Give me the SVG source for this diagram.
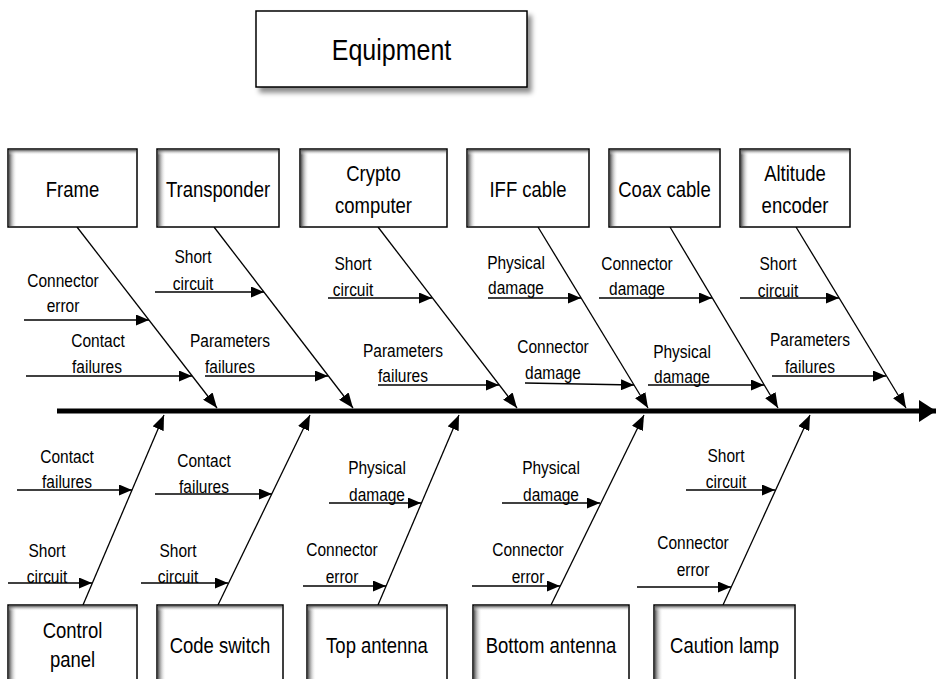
<svg xmlns="http://www.w3.org/2000/svg" width="936" height="679" viewBox="0 0 936 679">
<style>
.box{fill:#fff;stroke:#000;stroke-width:1.5}
.sl{fill:url(#gl)}
.st{fill:url(#gt)}
.t{font-family:"Liberation Sans",Arial,sans-serif;fill:#000;text-anchor:middle}
.bt{font-size:18.5px}
.lt{font-size:15.5px}
.et{font-size:25px}
.diag{stroke:#000;stroke-width:1.3;fill:none;marker-end:url(#ad)}
.sub{stroke:#000;stroke-width:1.5;fill:none;marker-end:url(#as)}
.spine{stroke:#000;stroke-width:5;fill:none;marker-end:url(#ab)}
</style>
<defs>
<linearGradient id="gl" x1="0" y1="0" x2="1" y2="0">
<stop offset="0" stop-color="#555" stop-opacity="1"/>
<stop offset="0.4" stop-color="#999" stop-opacity="0.6"/>
<stop offset="1" stop-color="#fff" stop-opacity="0"/>
</linearGradient>
<linearGradient id="gt" x1="0" y1="0" x2="0" y2="1">
<stop offset="0" stop-color="#555" stop-opacity="0.9"/>
<stop offset="1" stop-color="#fff" stop-opacity="0"/>
</linearGradient>
<filter id="sh" x="-10%" y="-20%" width="130%" height="150%">
<feDropShadow dx="4" dy="5" stdDeviation="2.5" flood-color="#000" flood-opacity="0.45"/>
</filter>
<marker id="as" markerUnits="userSpaceOnUse" markerWidth="13" markerHeight="11" refX="13" refY="5.5" orient="auto">
<path d="M0,0 L13,5.5 L0,11 z" fill="#000"/>
</marker>
<marker id="ad" markerUnits="userSpaceOnUse" markerWidth="15" markerHeight="12" refX="15" refY="6" orient="auto">
<path d="M0,0 L15,6 L0,12 z" fill="#000"/>
</marker>
<marker id="ab" markerUnits="userSpaceOnUse" markerWidth="17" markerHeight="22" refX="17" refY="11" orient="auto">
<path d="M0,0 L17,11 L0,22 z" fill="#000"/>
</marker>
</defs>

<g id="equipment">
<rect x="256" y="11" width="271" height="76" class="box" filter="url(#sh)"/>
<text class="t et" transform="translate(391.5,60) scale(1,1.18)">Equipment</text>
</g>

<g id="connectors">
<line x1="57" y1="411" x2="936" y2="411" class="spine"/>
<line x1="77" y1="227" x2="217" y2="408" class="diag"/>
<line x1="214" y1="227" x2="353" y2="408" class="diag"/>
<line x1="378" y1="227" x2="517" y2="408" class="diag"/>
<line x1="538" y1="227" x2="648" y2="408" class="diag"/>
<line x1="670" y1="227" x2="778" y2="408" class="diag"/>
<line x1="796" y1="227" x2="906" y2="408" class="diag"/>
<line x1="83" y1="605" x2="164" y2="415" class="diag"/>
<line x1="218" y1="605" x2="310" y2="415" class="diag"/>
<line x1="378" y1="605" x2="459" y2="415" class="diag"/>
<line x1="551" y1="605" x2="644" y2="415" class="diag"/>
<line x1="723" y1="605" x2="810" y2="415" class="diag"/>
<line x1="24" y1="320" x2="149" y2="320" class="sub"/>
<line x1="26" y1="376" x2="192" y2="376" class="sub"/>
<line x1="155" y1="292" x2="264" y2="292" class="sub"/>
<line x1="205" y1="376" x2="328" y2="376" class="sub"/>
<line x1="328" y1="298" x2="432" y2="298" class="sub"/>
<line x1="378" y1="385" x2="499" y2="385" class="sub"/>
<line x1="488" y1="298" x2="581" y2="298" class="sub"/>
<line x1="525" y1="383" x2="634" y2="385" class="sub"/>
<line x1="599" y1="298" x2="712" y2="298" class="sub"/>
<line x1="648" y1="385" x2="764" y2="385" class="sub"/>
<line x1="740" y1="298" x2="839" y2="298" class="sub"/>
<line x1="772" y1="376" x2="886" y2="376" class="sub"/>
<line x1="17" y1="490" x2="132" y2="490" class="sub"/>
<line x1="8" y1="583" x2="92" y2="583" class="sub"/>
<line x1="155" y1="494" x2="272" y2="494" class="sub"/>
<line x1="141" y1="583" x2="228" y2="583" class="sub"/>
<line x1="329" y1="503" x2="421" y2="503" class="sub"/>
<line x1="303" y1="586" x2="386" y2="586" class="sub"/>
<line x1="502" y1="503" x2="600" y2="503" class="sub"/>
<line x1="472" y1="586" x2="560" y2="586" class="sub"/>
<line x1="686" y1="490" x2="775" y2="490" class="sub"/>
<line x1="637" y1="587" x2="731" y2="587" class="sub"/>
</g>

<g id="frame">
<rect x="8" y="149" width="129" height="78" class="box"/>
<rect x="9" y="150" width="8" height="76" class="sl"/>
<rect x="9" y="150" width="127" height="5" class="st"/>
<text class="t bt" transform="translate(72.5,197) scale(1,1.18)">Frame</text>
<text class="t lt" transform="translate(63,287) scale(1,1.18)">Connector</text>
<text class="t lt" transform="translate(63,312) scale(1,1.18)">error</text>
<text class="t lt" transform="translate(98,347) scale(1,1.18)">Contact</text>
<text class="t lt" transform="translate(97,373) scale(1,1.18)">failures</text>
</g>

<g id="transponder">
<rect x="157" y="149" width="122" height="78" class="box"/>
<rect x="158" y="150" width="8" height="76" class="sl"/>
<rect x="158" y="150" width="120" height="5" class="st"/>
<text class="t bt" transform="translate(218,197) scale(1,1.18)">Transponder</text>
<text class="t lt" transform="translate(193,263) scale(1,1.18)">Short</text>
<text class="t lt" transform="translate(193,290) scale(1,1.18)">circuit</text>
<text class="t lt" transform="translate(230,347) scale(1,1.18)">Parameters</text>
<text class="t lt" transform="translate(230,373) scale(1,1.18)">failures</text>
</g>

<g id="crypto">
<rect x="300" y="149" width="147" height="78" class="box"/>
<rect x="301" y="150" width="8" height="76" class="sl"/>
<rect x="301" y="150" width="145" height="5" class="st"/>
<text class="t bt" transform="translate(373.5,181) scale(1,1.18)">Crypto</text>
<text class="t bt" transform="translate(373.5,213) scale(1,1.18)">computer</text>
<text class="t lt" transform="translate(353,270) scale(1,1.18)">Short</text>
<text class="t lt" transform="translate(353,296) scale(1,1.18)">circuit</text>
<text class="t lt" transform="translate(403,357) scale(1,1.18)">Parameters</text>
<text class="t lt" transform="translate(403,382) scale(1,1.18)">failures</text>
</g>

<g id="iff-cable">
<rect x="467" y="149" width="122" height="78" class="box"/>
<rect x="468" y="150" width="8" height="76" class="sl"/>
<rect x="468" y="150" width="120" height="5" class="st"/>
<text class="t bt" transform="translate(528,197) scale(1,1.18)">IFF cable</text>
<text class="t lt" transform="translate(516,269) scale(1,1.18)">Physical</text>
<text class="t lt" transform="translate(516,294) scale(1,1.18)">damage</text>
<text class="t lt" transform="translate(553,353) scale(1,1.18)">Connector</text>
<text class="t lt" transform="translate(553,379) scale(1,1.18)">damage</text>
</g>

<g id="coax-cable">
<rect x="609" y="149" width="111" height="78" class="box"/>
<rect x="610" y="150" width="8" height="76" class="sl"/>
<rect x="610" y="150" width="109" height="5" class="st"/>
<text class="t bt" transform="translate(664.5,197) scale(1,1.18)">Coax cable</text>
<text class="t lt" transform="translate(637,270) scale(1,1.18)">Connector</text>
<text class="t lt" transform="translate(637,295) scale(1,1.18)">damage</text>
<text class="t lt" transform="translate(682,358) scale(1,1.18)">Physical</text>
<text class="t lt" transform="translate(682,383) scale(1,1.18)">damage</text>
</g>

<g id="altitude-encoder">
<rect x="740" y="149" width="110" height="78" class="box"/>
<rect x="741" y="150" width="8" height="76" class="sl"/>
<rect x="741" y="150" width="108" height="5" class="st"/>
<text class="t bt" transform="translate(795,181) scale(1,1.18)">Altitude</text>
<text class="t bt" transform="translate(795,213) scale(1,1.18)">encoder</text>
<text class="t lt" transform="translate(778,270) scale(1,1.18)">Short</text>
<text class="t lt" transform="translate(778,297) scale(1,1.18)">circuit</text>
<text class="t lt" transform="translate(810,346) scale(1,1.18)">Parameters</text>
<text class="t lt" transform="translate(810,373) scale(1,1.18)">failures</text>
</g>

<g id="control-panel">
<rect x="8" y="605" width="129" height="82" class="box"/>
<rect x="9" y="606" width="8" height="80" class="sl"/>
<rect x="9" y="606" width="127" height="5" class="st"/>
<text class="t bt" transform="translate(72.5,638) scale(1,1.18)">Control</text>
<text class="t bt" transform="translate(72.5,667) scale(1,1.18)">panel</text>
<text class="t lt" transform="translate(67,463) scale(1,1.18)">Contact</text>
<text class="t lt" transform="translate(67,488) scale(1,1.18)">failures</text>
<text class="t lt" transform="translate(47,557) scale(1,1.18)">Short</text>
<text class="t lt" transform="translate(47,583) scale(1,1.18)">circuit</text>
</g>

<g id="code-switch">
<rect x="157" y="605" width="126" height="82" class="box"/>
<rect x="158" y="606" width="8" height="80" class="sl"/>
<rect x="158" y="606" width="124" height="5" class="st"/>
<text class="t bt" transform="translate(220,653) scale(1,1.18)">Code switch</text>
<text class="t lt" transform="translate(204,467) scale(1,1.18)">Contact</text>
<text class="t lt" transform="translate(204,493) scale(1,1.18)">failures</text>
<text class="t lt" transform="translate(178,557) scale(1,1.18)">Short</text>
<text class="t lt" transform="translate(178,583) scale(1,1.18)">circuit</text>
</g>

<g id="top-antenna">
<rect x="307" y="605" width="140" height="82" class="box"/>
<rect x="308" y="606" width="8" height="80" class="sl"/>
<rect x="308" y="606" width="138" height="5" class="st"/>
<text class="t bt" transform="translate(377,653) scale(1,1.18)">Top antenna</text>
<text class="t lt" transform="translate(377,474) scale(1,1.18)">Physical</text>
<text class="t lt" transform="translate(377,501) scale(1,1.18)">damage</text>
<text class="t lt" transform="translate(342,556) scale(1,1.18)">Connector</text>
<text class="t lt" transform="translate(342,583) scale(1,1.18)">error</text>
</g>

<g id="bottom-antenna">
<rect x="473" y="605" width="156" height="82" class="box"/>
<rect x="474" y="606" width="8" height="80" class="sl"/>
<rect x="474" y="606" width="154" height="5" class="st"/>
<text class="t bt" transform="translate(551,653) scale(1,1.18)">Bottom antenna</text>
<text class="t lt" transform="translate(551,474) scale(1,1.18)">Physical</text>
<text class="t lt" transform="translate(551,501) scale(1,1.18)">damage</text>
<text class="t lt" transform="translate(528,556) scale(1,1.18)">Connector</text>
<text class="t lt" transform="translate(528,583) scale(1,1.18)">error</text>
</g>

<g id="caution-lamp">
<rect x="654" y="605" width="141" height="82" class="box"/>
<rect x="655" y="606" width="8" height="80" class="sl"/>
<rect x="655" y="606" width="139" height="5" class="st"/>
<text class="t bt" transform="translate(724.5,653) scale(1,1.18)">Caution lamp</text>
<text class="t lt" transform="translate(726,462) scale(1,1.18)">Short</text>
<text class="t lt" transform="translate(726,488) scale(1,1.18)">circuit</text>
<text class="t lt" transform="translate(693,549) scale(1,1.18)">Connector</text>
<text class="t lt" transform="translate(693,576) scale(1,1.18)">error</text>
</g>
</svg>
